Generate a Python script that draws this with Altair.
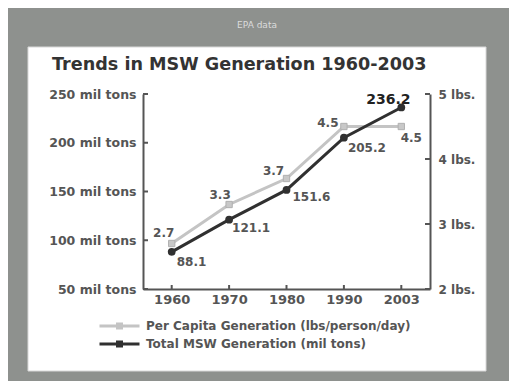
import altair as alt
import pandas as pd

years = ["1960", "1970", "1980", "1990", "2003"]
per_capita = [2.7, 3.3, 3.7, 4.5, 4.5]
total_msw = [88.1, 121.1, 151.6, 205.2, 236.2]
left_ticks = [50, 100, 150, 200, 250]
right_ticks = [2, 3, 4, 5]
series_names = ["Per Capita Generation (lbs/person/day)", "Total MSW Generation (mil tons)"]
title_text = "Trends in MSW Generation 1960-2003"
source_text = "EPA data"

W, H = 287, 195
FONT = "DejaVu Sans"
AXIS_C = "#555555"
PC_C = "#c4c4c4"
TOT_C = "#303030"
BG = "#8e918e"

pc_df = pd.DataFrame({"year": years, "value": per_capita, "series": series_names[0],
                      "label": [f"{v:.1f}" for v in per_capita]})
tot_df = pd.DataFrame({"year": years, "value": total_msw, "series": series_names[1],
                       "label": [f"{v:.1f}" for v in total_msw]})
one = pd.DataFrame({"k": [0]})

xscale = alt.Scale(domain=years, type="point", padding=0.5)
x_axis = alt.Axis(title=None, labelFont=FONT, labelFontSize=13, labelFontWeight="bold",
                  labelColor=AXIS_C, domainColor=AXIS_C, domainWidth=2, ticks=False, tickSize=0,
                  labelPadding=4, grid=False, labelAngle=0, zindex=1)

lscale = alt.Scale(domain=[50, 250], nice=False, zero=False)
rscale = alt.Scale(domain=[2, 5], nice=False, zero=False)
laxis = alt.Axis(title=None, values=left_ticks, labelExpr="datum.value + ' mil tons'", orient="left",
                 labelFont=FONT, labelFontSize=12.5, labelFontWeight="bold", labelColor=AXIS_C,
                 domainColor=AXIS_C, domainWidth=2, ticks=False, tickSize=0, labelPadding=7,
                 grid=False, zindex=1)
raxis = alt.Axis(title=None, values=right_ticks, labelExpr="datum.value + ' lbs.'", orient="right",
                 labelFont=FONT, labelFontSize=12, labelFontWeight="bold", labelColor=AXIS_C,
                 domainColor=AXIS_C, domainWidth=2, ticks=False, tickSize=0, labelPadding=8,
                 grid=False, zindex=1)


def X(axis=None):
    if axis is None:
        return alt.X("year:N", scale=xscale, sort=years)
    return alt.X("year:N", scale=xscale, sort=years, axis=axis)


def Y(scale, axis=None):
    if axis is None:
        return alt.Y("value:Q", scale=scale)
    return alt.Y("value:Q", scale=scale, axis=axis)


cscale = alt.Scale(domain=series_names, range=[PC_C, TOT_C])
legend = alt.Legend(title=None, orient="none", legendX=-45, legendY=225, direction="vertical",
                    symbolType="M-1,0H1M-0.1,-0.1H0.1V0.1H-0.1Z", symbolSize=1600,
                    symbolStrokeWidth=3, labelFont=FONT, labelFontSize=12, labelFontWeight="bold",
                    labelColor=AXIS_C, labelOffset=5, padding=0, rowPadding=4, clipHeight=14,
                    labelLimit=0, zindex=1)


def label_layer(df, year, scale, dx, dy, align="center", size=12, color=AXIS_C):
    return alt.Chart(df).transform_filter(alt.datum.year == year).mark_text(
        font=FONT, fontSize=size, fontWeight="bold", color=color, align=align,
        baseline="middle", dx=dx, dy=dy
    ).encode(x=X(), y=Y(scale), text="label:N")


# per capita group (right axis)
pc_line = alt.Chart(pc_df).mark_line(strokeWidth=3).encode(
    x=X(x_axis), y=Y(rscale, raxis),
    color=alt.Color("series:N", scale=cscale, legend=legend))
pc_pts = alt.Chart(pc_df).mark_point(shape="square", filled=True, size=40, color="#c8c8c8",
                                      opacity=1, stroke="#b0b0b0", strokeWidth=1).encode(
    x=X(), y=Y(rscale))
r_ticks = alt.Chart(pd.DataFrame({"value": right_ticks})).mark_rule(color=AXIS_C, strokeWidth=2).encode(
    y=Y(rscale), x=alt.value(W), x2=alt.value(W - 5))
pc_offsets = {"1960": (-8, -11), "1970": (-9, -10), "1980": (-13, -8), "1990": (-16, -4), "2003": (10, 11)}
pc_labels = [label_layer(pc_df, y, rscale, dx, dy) for y, (dx, dy) in pc_offsets.items()]
pc_group = alt.layer(pc_line, pc_pts, r_ticks, *pc_labels)

# total group (left axis)
tot_line = alt.Chart(tot_df).mark_line(strokeWidth=3).encode(
    x=X(x_axis), y=Y(lscale, laxis),
    color=alt.Color("series:N", scale=cscale, legend=None))
tot_pts = alt.Chart(tot_df).mark_point(shape="circle", filled=True, size=60, color=TOT_C, opacity=1).encode(
    x=X(), y=Y(lscale))
l_ticks = alt.Chart(pd.DataFrame({"value": left_ticks})).mark_rule(color=AXIS_C, strokeWidth=2).encode(
    y=Y(lscale), x=alt.value(0), x2=alt.value(5))
x_ticks = alt.Chart(pd.DataFrame({"year": years})).mark_rule(color=AXIS_C, strokeWidth=2).encode(
    x=X(), y=alt.value(H), y2=alt.value(H - 4))
tot_offsets = {"1960": (5, 10), "1970": (3, 8), "1980": (6, 7), "1990": (4, 10)}
tot_labels = [label_layer(tot_df, y, lscale, dx, dy, align="left") for y, (dx, dy) in tot_offsets.items()]
tot_labels.append(label_layer(tot_df, "2003", lscale, -13, -7, size=14, color="#222222"))
tot_group = alt.layer(tot_line, tot_pts, l_ticks, x_ticks, *tot_labels)

panel = alt.Chart(one).mark_rect(color="white", stroke="#d8d8d8", strokeWidth=1).encode(
    x=alt.value(-115), x2=alt.value(343), y=alt.value(-47), y2=alt.value(277))
epa = alt.Chart(one).mark_text(font=FONT, fontSize=9, color="#dcdcdc", align="center",
                                baseline="middle").encode(
    x=alt.value(114), y=alt.value(-69), text=alt.value(source_text))
title = alt.Chart(one).mark_text(font=FONT, fontSize=17.6, fontWeight="bold", color="#333333",
                                  align="left", baseline="alphabetic").encode(
    x=alt.value(-91), y=alt.value(-24), text=alt.value(title_text))

chart = alt.layer(panel, epa, title, pc_group, tot_group).resolve_scale(y="independent").properties(
    width=W, height=H,
    background=BG,
    padding={"left": 135, "top": 86, "right": 79, "bottom": 92},
    autosize=alt.AutoSizeParams(type="none"),
).configure_view(stroke=None)

chart.save("out.html", embed_options={"renderer": "svg", "actions": False})
